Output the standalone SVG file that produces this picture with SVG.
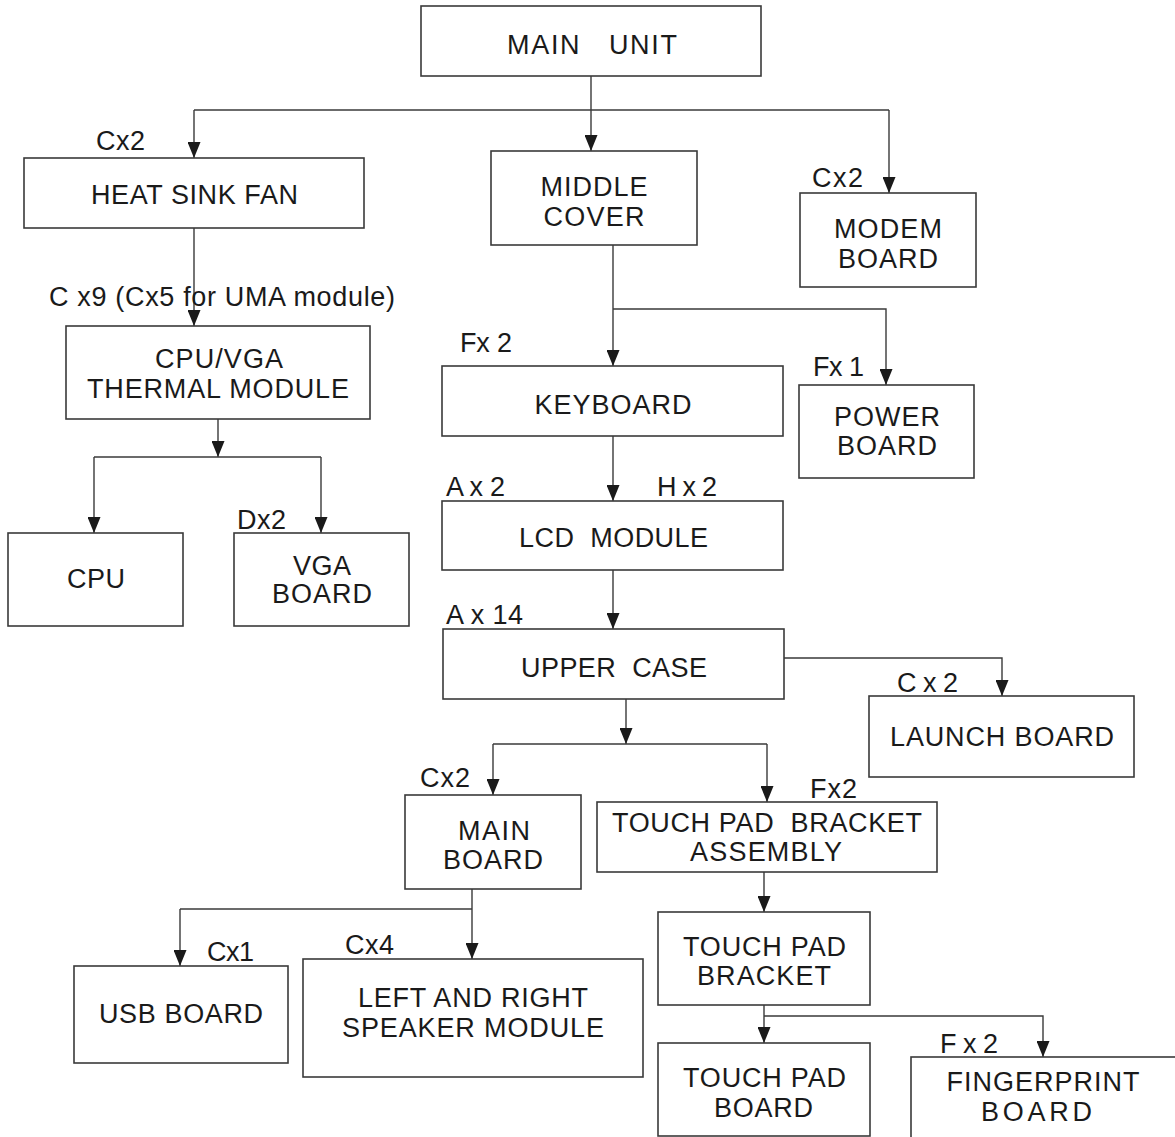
<svg xmlns="http://www.w3.org/2000/svg" width="1175" height="1137" viewBox="0 0 1175 1137">
<style>
  .box { fill: #ffffff; stroke: #3a3a3a; stroke-width: 1.6; }
  .lbl { font-family: "Liberation Sans", Arial, sans-serif; font-size: 27px; fill: #1a1a1a; text-anchor: middle; white-space: pre; }
  .note { font-family: "Liberation Sans", Arial, sans-serif; font-size: 27px; fill: #1a1a1a; text-anchor: start; white-space: pre; }
  .conn { fill: none; stroke: #3a3a3a; stroke-width: 1.4; }
  .arr { marker-end: url(#ah); }
</style>
<defs>
  <marker id="ah" viewBox="0 0 16 13" refX="16" refY="6.5" markerWidth="16" markerHeight="13" markerUnits="userSpaceOnUse" orient="auto">
    <path d="M0,0 L16,6.5 L0,13 z" fill="#1a1a1a"/>
  </marker>
</defs>
<rect width="1175" height="1137" fill="#ffffff"/>

<g id="connectors">
  <path class="conn arr" d="M591,76 V151"/>
  <path class="conn" d="M194,110 H889"/>
  <path class="conn arr" d="M194,110 V158"/>
  <path class="conn arr" d="M889,110 V193"/>
  <path class="conn arr" d="M194,228 V326"/>
  <path class="conn arr" d="M218,419 V457"/>
  <path class="conn" d="M94,457 H321"/>
  <path class="conn arr" d="M94,457 V533"/>
  <path class="conn arr" d="M321,457 V533"/>
  <path class="conn arr" d="M613,245 V366"/>
  <path class="conn arr" d="M613,309 H886 V385"/>
  <path class="conn arr" d="M613,436 V501"/>
  <path class="conn arr" d="M613,570 V629"/>
  <path class="conn arr" d="M784,658 H1002 V696"/>
  <path class="conn arr" d="M626,699 V744"/>
  <path class="conn" d="M493,744 H767"/>
  <path class="conn arr" d="M493,744 V795"/>
  <path class="conn arr" d="M767,744 V802"/>
  <path class="conn arr" d="M472,889 V959"/>
  <path class="conn" d="M180,909 H472"/>
  <path class="conn arr" d="M180,909 V966"/>
  <path class="conn arr" d="M764,872 V912"/>
  <path class="conn arr" d="M764,1005 V1043"/>
  <path class="conn arr" d="M764,1016 H1043 V1057"/>
</g>

<g id="main-unit">
  <rect class="box" x="421" y="6" width="340" height="70"/>
  <text class="lbl" x="592" y="54" textLength="170" xml:space="preserve">MAIN   UNIT</text>
</g>

<g id="heat-sink-fan">
  <rect class="box" x="24" y="158" width="340" height="70"/>
  <text class="lbl" x="194.5" y="204" textLength="207">HEAT SINK FAN</text>
  <text class="note" x="96" y="150" textLength="49">Cx2</text>
</g>

<g id="middle-cover">
  <rect class="box" x="491" y="151" width="206" height="94"/>
  <text class="lbl" x="594" y="196" textLength="107">MIDDLE</text>
  <text class="lbl" x="594" y="226" textLength="101">COVER</text>
</g>

<g id="modem-board">
  <rect class="box" x="800" y="193" width="176" height="94"/>
  <text class="lbl" x="888" y="238" textLength="108">MODEM</text>
  <text class="lbl" x="888" y="268" textLength="100">BOARD</text>
  <text class="note" x="812" y="187" textLength="51">Cx2</text>
</g>

<g id="thermal-module">
  <rect class="box" x="66" y="326" width="304" height="93"/>
  <text class="lbl" x="219" y="368" textLength="128">CPU/VGA</text>
  <text class="lbl" x="218" y="398" textLength="262">THERMAL MODULE</text>
  <text class="note" x="49" y="306" textLength="346">C x9 (Cx5 for UMA module)</text>
</g>

<g id="cpu">
  <rect class="box" x="8" y="533" width="175" height="93"/>
  <text class="lbl" x="96" y="588" textLength="58">CPU</text>
</g>

<g id="vga-board">
  <rect class="box" x="234" y="533" width="175" height="93"/>
  <text class="lbl" x="322" y="575" textLength="58">VGA</text>
  <text class="lbl" x="322" y="603" textLength="100">BOARD</text>
  <text class="note" x="237" y="529" textLength="49">Dx2</text>
</g>

<g id="keyboard">
  <rect class="box" x="442" y="366" width="341" height="70"/>
  <text class="lbl" x="613" y="414" textLength="157">KEYBOARD</text>
  <text class="note" x="460" y="352" textLength="52" xml:space="preserve">Fx 2</text>
</g>

<g id="power-board">
  <rect class="box" x="799" y="385" width="175" height="93"/>
  <text class="lbl" x="887" y="426" textLength="106">POWER</text>
  <text class="lbl" x="887" y="455" textLength="100">BOARD</text>
  <text class="note" x="813" y="376" textLength="51" xml:space="preserve">Fx 1</text>
</g>

<g id="lcd-module">
  <rect class="box" x="442" y="501" width="341" height="69"/>
  <text class="lbl" x="613.5" y="547" textLength="189" xml:space="preserve">LCD  MODULE</text>
  <text class="note" x="446" y="496" textLength="59" xml:space="preserve">A x 2</text>
  <text class="note" x="657" y="496" textLength="60" xml:space="preserve">H x 2</text>
</g>

<g id="upper-case">
  <rect class="box" x="443" y="629" width="341" height="70"/>
  <text class="lbl" x="614" y="677" textLength="186" xml:space="preserve">UPPER  CASE</text>
  <text class="note" x="446" y="624" textLength="77" xml:space="preserve">A x 14</text>
</g>

<g id="launch-board">
  <rect class="box" x="869" y="696" width="265" height="81"/>
  <text class="lbl" x="1002" y="746" textLength="224">LAUNCH BOARD</text>
  <text class="note" x="897" y="692" textLength="61" xml:space="preserve">C x 2</text>
</g>

<g id="main-board">
  <rect class="box" x="405" y="795" width="176" height="94"/>
  <text class="lbl" x="494" y="840" textLength="72">MAIN</text>
  <text class="lbl" x="493" y="869" textLength="100">BOARD</text>
  <text class="note" x="420" y="787" textLength="50">Cx2</text>
</g>

<g id="touch-pad-bracket-assembly">
  <rect class="box" x="597" y="802" width="340" height="70"/>
  <text class="lbl" x="767" y="832" textLength="310" xml:space="preserve">TOUCH PAD  BRACKET</text>
  <text class="lbl" x="766" y="861" textLength="152">ASSEMBLY</text>
  <text class="note" x="810" y="798" textLength="47">Fx2</text>
</g>

<g id="touch-pad-bracket">
  <rect class="box" x="658" y="912" width="212" height="93"/>
  <text class="lbl" x="764.5" y="956" textLength="163">TOUCH PAD</text>
  <text class="lbl" x="764" y="985" textLength="134">BRACKET</text>
</g>

<g id="usb-board">
  <rect class="box" x="74" y="966" width="214" height="97"/>
  <text class="lbl" x="181" y="1023" textLength="164">USB BOARD</text>
  <text class="note" x="207" y="961" textLength="47">Cx1</text>
</g>

<g id="speaker-module">
  <rect class="box" x="303" y="959" width="340" height="118"/>
  <text class="lbl" x="473" y="1007" textLength="230">LEFT AND RIGHT</text>
  <text class="lbl" x="473" y="1037" textLength="262">SPEAKER MODULE</text>
  <text class="note" x="345" y="954" textLength="49">Cx4</text>
</g>

<g id="touch-pad-board">
  <rect class="box" x="658" y="1043" width="212" height="93"/>
  <text class="lbl" x="764.5" y="1087" textLength="163">TOUCH PAD</text>
  <text class="lbl" x="763.5" y="1117" textLength="99">BOARD</text>
</g>

<g id="fingerprint-board">
  <rect class="box" x="911" y="1057" width="280" height="100"/>
  <text class="lbl" x="1043" y="1091" textLength="193">FINGERPRINT</text>
  <text class="lbl" x="1036.5" y="1121" textLength="111">BOARD</text>
  <text class="note" x="940" y="1053" textLength="58" xml:space="preserve">F x 2</text>
</g>
</svg>
